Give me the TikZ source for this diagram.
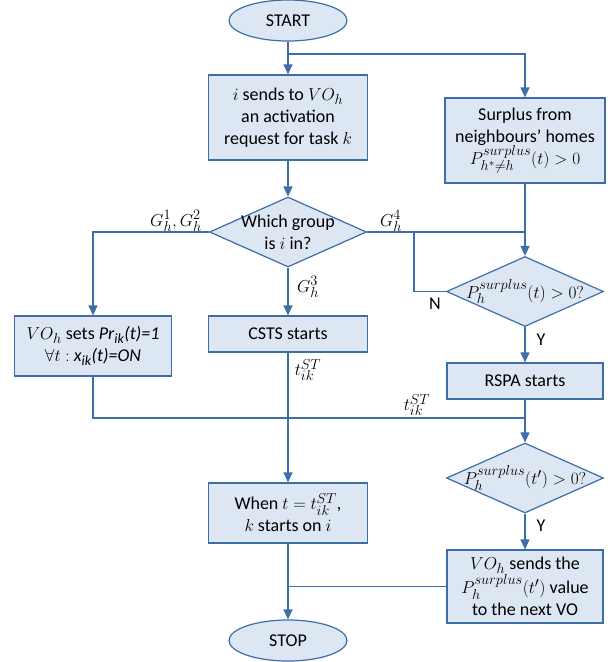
\documentclass[tikz,border=0pt]{standalone}
\usepackage{fontspec}
\setmainfont{Carlito}
\DeclareMathSizes{18}{19}{14}{11}
\usetikzlibrary{arrows.meta, positioning, shapes.geometric}
\definecolor{flowblue}{HTML}{3F6DA7}
\definecolor{flowfill}{HTML}{DDE7F3}

\begin{document}
\begin{tikzpicture}[x=1pt,y=-1pt,
  font=\fontsize{18}{22}\selectfont,
  line width=1.2pt,
  procbox/.style={rectangle,draw=flowblue,fill=flowfill,align=center,inner sep=0pt},
  termbox/.style={ellipse,draw=flowblue,fill=flowfill,minimum width=118pt,minimum height=41pt,inner sep=0pt},
  decision/.style={diamond,draw=flowblue,fill=flowfill,minimum width=157pt,minimum height=70pt,inner sep=0pt},
  flow/.style={draw=flowblue,-{Triangle[length=10pt,width=9pt]}},
  link/.style={draw=flowblue},
  lbl/.style={inner sep=1pt}]
  \useasboundingbox (0,0) rectangle (613,662);
  % terminals
  \node[termbox] (start) at (288,20.5) {START};
  \node[termbox] (stop) at (288,640.5) {STOP};
  % process boxes: name/x/y/width/height/text
  \foreach \name/\xx/\yy/\ww/\hh/\txt in {
    send/288/117.5/159/85/{$i$ sends to $VO_h$\\an activation\\request for task $k$},
    surplus/525/140.5/160/85/{Surplus from\\neighbours' homes\\$P^{surplus}_{h^*\neq h}(t)>0$},
    setpr/93/346/157/60/{$VO_h$ sets \textit{Pr\textsubscript{ik}(t)=1}\\$\forall t:$ \textit{x\textsubscript{ik}(t)=ON}},
    csts/288/334/159/36/{CSTS starts},
    rspa/525/381/156/36/{RSPA starts},
    when/288/513/159/60/{When $t=t^{ST}_{ik}$,\\$k$ starts on $i$},
    sends/525/586.5/156/73/{$VO_h$ sends the\\$P^{surplus}_h(t')$ value\\to the next VO}}
  \node[procbox,minimum width=\ww pt,minimum height=\hh pt] (\name) at (\xx,\yy) {\txt};
  % decisions
  \node[decision,label={[align=center]center:Which group\\is $i$ in?}] (grp) at (288,232) {};
  \node[decision,label={center:$P^{surplus}_h(t)>0?$}] (chk1) at (525,291.5) {};
  \node[decision,label={center:$P^{surplus}_h(t')>0?$}] (chk2) at (525,478) {};
  % connectors
  \coordinate (fork) at (288,54);
  \coordinate (joinR) at (525,232);
  \coordinate (loopN) at (414,232);
  \coordinate (joinT) at (525,418);
  \draw[flow] (start) -- (send);
  \draw[flow] (fork) -| (surplus);
  \draw[flow] (send) -- (grp);
  \draw[flow] (grp) -- (csts);
  \draw[flow] (grp.west) -| (setpr);
  \draw[link] (grp.east) -- (joinR);
  \draw[flow] (surplus) -- (chk1);
  \draw[link] (chk1.west) -| (loopN);
  \draw[flow] (chk1) -- (rspa);
  \draw[flow] (csts) -- (when);
  \draw[link] (setpr.south) |- (joinT);
  \draw[flow] (rspa) -- (chk2);
  \draw[flow] (chk2) -- (sends);
  \draw[flow] (when) -- (stop);
  \draw[link] (sends.west) -- (stop |- sends.west);
  % labels
  \node[lbl] (g12) at (176,221) {$G^1_h, G^2_h$};
  \node[lbl] (g4) at (391,221) {$G^4_h$};
  \node[lbl] (g3) at (308,287) {$G^3_h$};
  \node[lbl] (tcs) at (308,370) {$t^{ST}_{ik}$};
  \node[lbl] (tjn) at (417,405) {$t^{ST}_{ik}$};
  \node[lbl] (nlbl) at (435,304) {N};
  \node[lbl] (ylbl1) at (541,340) {Y};
  \node[lbl] (ylbl2) at (541,526) {Y};
\end{tikzpicture}
\end{document}
